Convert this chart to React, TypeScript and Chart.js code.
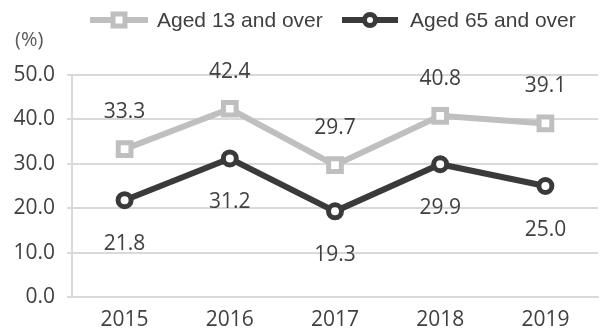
import React, { useEffect, useRef } from "react";
import { Chart, registerables } from "chart.js";

Chart.register(...registerables);

const categories = ["2015", "2016", "2017", "2018", "2019"];
const aged13 = [33.3, 42.4, 29.7, 40.8, 39.1];
const aged65 = [21.8, 31.2, 19.3, 29.9, 25.0];
const seriesNames = ["Aged 13 and over", "Aged 65 and over"];
const yMin = 0;
const yMax = 50;
const yStep = 10;
const unitLabel = "(%)";

const GRAY = "#bfbfbf";
const DARK = "#3a3a3a";
const TEXT = "#404040";
const GRID = "#d9d9d9";
const NUM_FONT = "'Open Sans', 'Noto Sans', sans-serif";
const LEG_FONT = "'Liberation Sans', Arial, sans-serif";

const overlayPlugin = {
  id: "overlay",
  afterDatasetsDraw(chart: any) {
    const ctx = chart.ctx;
    ctx.save();
    ctx.font = `21px ${NUM_FONT}`;
    ctx.fillStyle = TEXT;
    ctx.textAlign = "center";
    ctx.textBaseline = "middle";
    const offsets = [-37, 44];
    chart.data.datasets.forEach((ds: any, di: number) => {
      const meta = chart.getDatasetMeta(di);
      meta.data.forEach((pt: any, i: number) => {
        const v = ds.data[i] as number;
        ctx.fillText(v.toFixed(1), pt.x, pt.y + offsets[di]);
      });
    });
    ctx.restore();
  },
  afterDraw(chart: any) {
    const ctx = chart.ctx;
    ctx.save();
    // unit label
    ctx.font = `20px ${NUM_FONT}`;
    ctx.fillStyle = "#595959";
    ctx.textAlign = "left";
    ctx.textBaseline = "middle";
    ctx.fillText(unitLabel, 15, 40);

    // legend
    const y = 20;
    const items = [
      { x0: 90, x1: 148, color: GRAY, style: "rect", tx: 157 },
      { x0: 342, x1: 398, color: DARK, style: "circle", tx: 410 },
    ];
    items.forEach((it, idx) => {
      ctx.strokeStyle = it.color;
      ctx.lineWidth = 6;
      ctx.lineCap = "butt";
      ctx.beginPath();
      ctx.moveTo(it.x0, y);
      ctx.lineTo(it.x1, y);
      ctx.stroke();
      const cx = (it.x0 + it.x1) / 2;
      ctx.fillStyle = "#ffffff";
      ctx.lineWidth = 5;
      ctx.beginPath();
      if (it.style === "rect") {
        ctx.rect(cx - 6, y - 6, 12, 12);
      } else {
        ctx.arc(cx, y, 5.5, 0, Math.PI * 2);
      }
      ctx.fill();
      ctx.stroke();
      ctx.font = `21px ${LEG_FONT}`;
      ctx.fillStyle = TEXT;
      ctx.textAlign = "left";
      ctx.textBaseline = "middle";
      ctx.fillText(seriesNames[idx], it.tx, y + 1);
    });
    ctx.restore();
  },
};

export default function App() {
  const ref = useRef<HTMLCanvasElement | null>(null);
  useEffect(() => {
    if (!ref.current) return;
    const chart = new Chart(ref.current, {
      type: "line",
      data: {
        labels: categories,
        datasets: [
          {
            label: seriesNames[0],
            data: aged13,
            borderColor: GRAY,
            borderWidth: 6,
            pointStyle: "rect",
            pointRadius: 9,
            pointBorderWidth: 5,
            pointBackgroundColor: "#ffffff",
            pointBorderColor: GRAY,
            tension: 0,
          },
          {
            label: seriesNames[1],
            data: aged65,
            borderColor: DARK,
            borderWidth: 6,
            pointStyle: "circle",
            pointRadius: 6.5,
            pointBorderWidth: 5,
            pointBackgroundColor: "#ffffff",
            pointBorderColor: DARK,
            tension: 0,
          },
        ],
      },
      options: {
        animation: false,
        responsive: false,
        devicePixelRatio: 1,
        layout: { padding: { top: 75, right: 1, left: 0, bottom: 0 } },
        plugins: {
          legend: { display: false },
          tooltip: { enabled: false },
        },
        scales: {
          x: {
            offset: true,
            grid: { display: false, drawTicks: false },
            border: { display: true, color: GRID, width: 2 },
            ticks: {
              font: { size: 21, family: NUM_FONT },
              color: TEXT,
              padding: 10,
              maxRotation: 0,
            },
            afterFit(scale: any) {
              scale.height = 38;
            },
          },
          y: {
            min: yMin,
            max: yMax,
            ticks: {
              stepSize: yStep,
              font: { size: 21, family: NUM_FONT },
              color: TEXT,
              padding: 12,
              callback: (v: any) => Number(v).toFixed(1),
            },
            grid: { color: GRID, lineWidth: 2, tickLength: 5 },
            border: { display: true, color: GRID, width: 2 },
            afterFit(scale: any) {
              scale.width = 72;
            },
          },
        },
      },
      plugins: [overlayPlugin],
    });
    return () => chart.destroy();
  }, []);
  return (
    <div style={{ position: "fixed", left: 0, top: 0, width: 612, height: 335, background: "#fff" }}>
      <canvas ref={ref} width={612} height={335} />
    </div>
  );
}
